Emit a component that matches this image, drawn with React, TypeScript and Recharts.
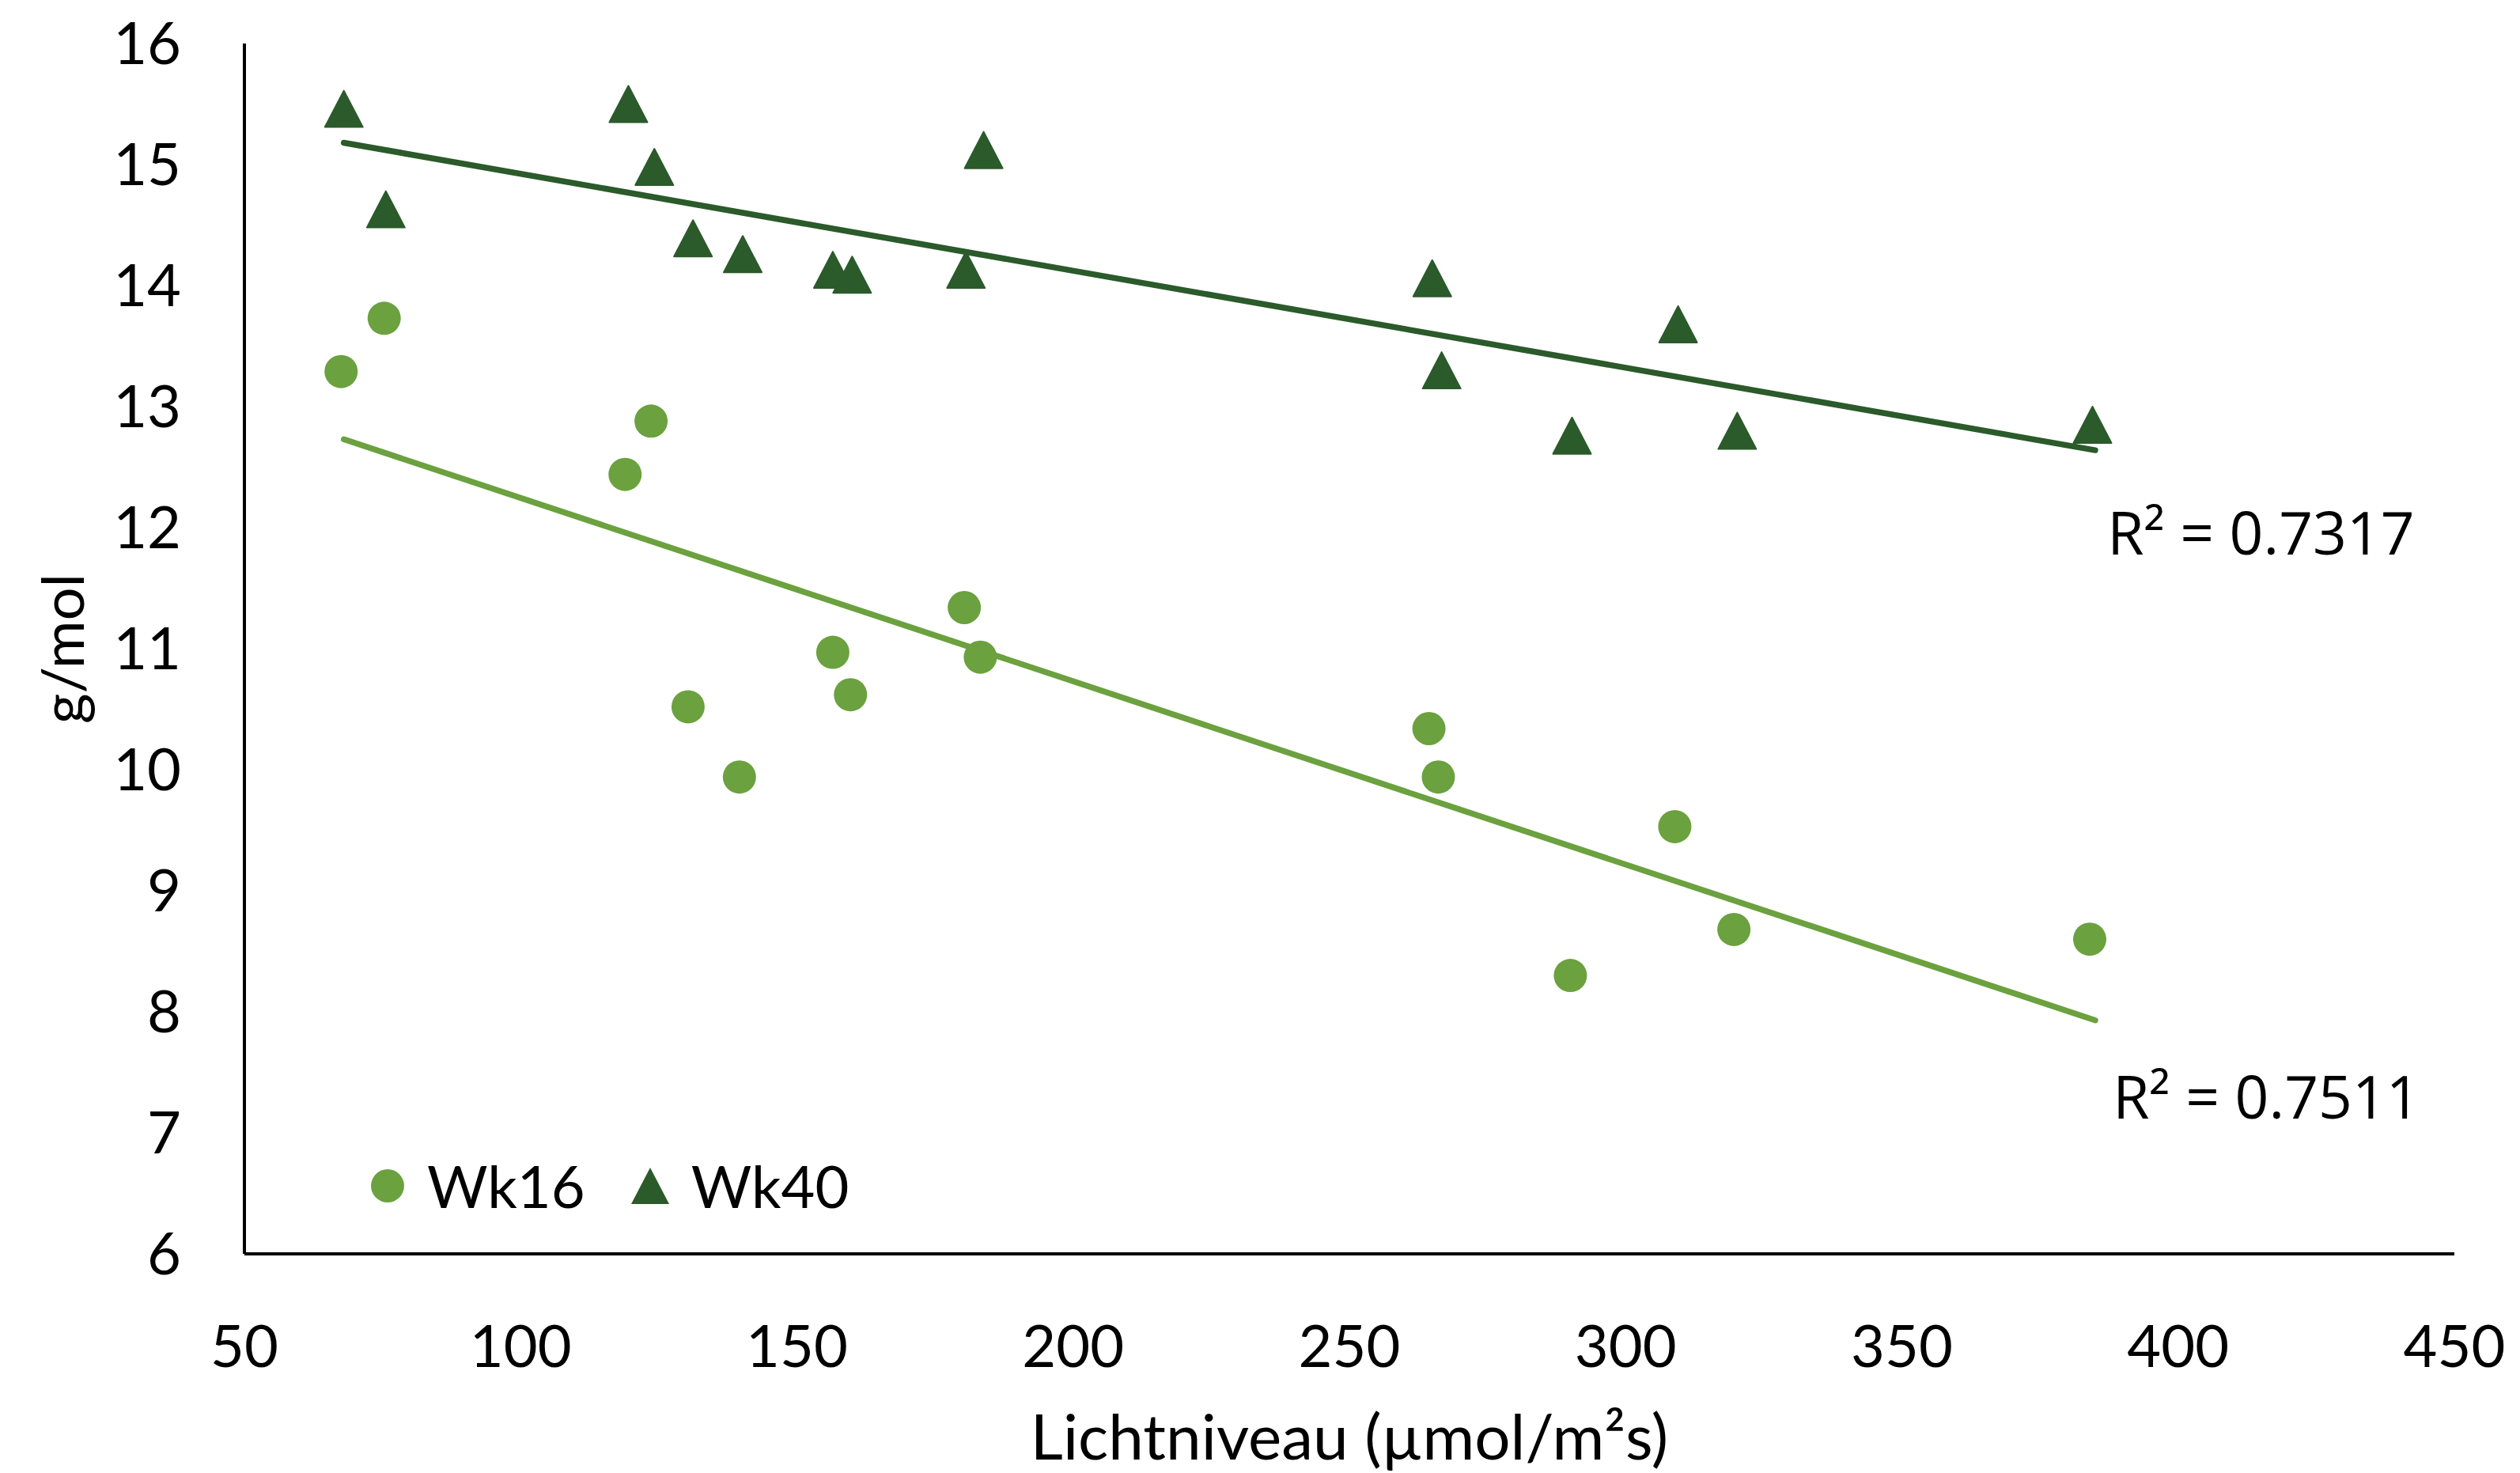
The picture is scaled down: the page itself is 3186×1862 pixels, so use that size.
import React from "react";
import {
  Label,
  Legend,
  ReferenceDot,
  Scatter,
  ScatterChart,
  XAxis,
  YAxis,
} from "recharts";

// tick labels
const xTicks = [50, 100, 150, 200, 250, 300, 350, 400, 450];
const yTicks = [6, 7, 8, 9, 10, 11, 12, 13, 14, 15, 16];

// Wk16 measurements
const wk16Light = [67.5, 75.3, 118.9, 123.6, 130.3, 139.6, 156.5, 159.7, 180.3, 183.2, 264.4, 266.1, 290, 308.9, 319.6, 384];
const wk16Value = [13.29, 13.73, 12.44, 12.88, 10.52, 9.94, 10.97, 10.62, 11.34, 10.93, 10.34, 9.94, 8.3, 9.53, 8.68, 8.6];

// Wk40 measurements
const wk40Light = [68, 75.6, 119.5, 124.2, 131.2, 140.2, 156.5, 160, 183.8, 180.6, 265, 266.7, 290.3, 309.5, 320.2, 384.5];
const wk40Value = [15.46, 14.63, 15.5, 14.98, 14.39, 14.26, 14.13, 14.09, 15.12, 14.13, 14.06, 13.3, 12.76, 13.68, 12.8, 12.85];

// linear trendline end points
const trend16Light = [68, 385];
const trend16Value = [12.73, 7.93];
const trend40Light = [68, 385];
const trend40Value = [15.18, 12.64];

const r2Texts = ["R\u00b2 = 0.7317", "R\u00b2 = 0.7511"];

const LIGHT = "#6ba13e";
const DARK = "#2b5a2b";
const FONT = "Lato, 'Open Sans', sans-serif";

const zip = (xs: number[], ys: number[]) => xs.map((x, i) => ({ x, y: ys[i] }));

const wk16 = zip(wk16Light, wk16Value);
const wk40 = zip(wk40Light, wk40Value);
const trend16 = zip(trend16Light, trend16Value);
const trend40 = zip(trend40Light, trend40Value);

const Dot = ({ cx, cy }: any) => <circle cx={cx} cy={cy} r={21} fill={LIGHT} />;

const Triangle = ({ cx, cy }: any) => (
  <polygon
    points={`${cx},${cy - 23} ${cx + 24},${cy + 23} ${cx - 24},${cy + 23}`}
    fill={DARK}
    stroke={DARK}
    strokeWidth={2}
    strokeLinejoin="round"
  />
);

const NoMark = () => <g />;

function LegendBox() {
  return (
    <div style={{ display: "flex", alignItems: "center", fontFamily: FONT, fontSize: 74, color: "#000" }}>
      <svg width={48} height={50}>
        <circle cx={24} cy={25} r={21} fill={LIGHT} />
      </svg>
      <span style={{ marginLeft: 26, marginRight: 56 }}>Wk16</span>
      <svg width={52} height={50}>
        <polygon points="26,2 50,48 2,48" fill={DARK} />
      </svg>
      <span style={{ marginLeft: 26 }}>Wk40</span>
    </div>
  );
}

export default function App() {
  return (
    <div style={{ position: "absolute", left: 0, top: 0, background: "#fff" }}>
      <ScatterChart width={3186} height={1862} margin={{ top: 55, right: 83, bottom: 0, left: 0 }}>
        <XAxis
          type="number"
          dataKey="x"
          domain={[50, 450]}
          ticks={xTicks}
          interval={0}
          height={277}
          axisLine={{ stroke: "#000", strokeWidth: 4 }}
          tickLine={false}
          tickSize={0}
          tickMargin={90}
          tick={{ fill: "#000", fontSize: 74, fontFamily: FONT }}
        >
          <Label
            content={({ viewBox }: any) => (
              <text
                x={viewBox.x + viewBox.width / 2}
                y={1845}
                textAnchor="middle"
                fontSize={80}
                fontFamily={FONT}
                fill="#000"
              >
                Lichtniveau (µmol/m²s)
              </text>
            )}
          />
        </XAxis>
        <YAxis
          type="number"
          dataKey="y"
          domain={[6, 16]}
          ticks={yTicks}
          interval={0}
          width={309}
          axisLine={{ stroke: "#000", strokeWidth: 4 }}
          tickLine={false}
          tickSize={0}
          tickMargin={80}
          tick={{ fill: "#000", fontSize: 74, fontFamily: FONT }}
        >
          <Label
            content={({ viewBox }: any) => {
              const cy = viewBox.y + viewBox.height / 2;
              return (
                <text
                  x={77}
                  y={cy}
                  transform={`rotate(-90, 77, ${cy})`}
                  textAnchor="middle"
                  dominantBaseline="central"
                  fontSize={74}
                  fontFamily={FONT}
                  fill="#000"
                >
                  g/mol
                </text>
              );
            }}
          />
        </YAxis>
        <Legend
          layout="horizontal"
          verticalAlign="middle"
          align="center"
          wrapperStyle={{ left: 466, top: 1454, width: "auto" }}
          content={() => <LegendBox />}
        />
        <Scatter name="Wk16" data={wk16} shape={Dot} isAnimationActive={false} />
        <Scatter name="Wk40" data={wk40} shape={Triangle} isAnimationActive={false} />
        <Scatter
          data={trend16}
          shape={NoMark}
          line={{ stroke: LIGHT, strokeWidth: 7.5, strokeLinecap: "round" }}
          legendType="none"
          isAnimationActive={false}
        />
        <Scatter
          data={trend40}
          shape={NoMark}
          line={{ stroke: DARK, strokeWidth: 7.5, strokeLinecap: "round" }}
          legendType="none"
          isAnimationActive={false}
        />
        <ReferenceDot
          x={415}
          y={11.95}
          r={0}
          stroke="none"
          label={{ value: r2Texts[0], position: "center", fontSize: 75, fontFamily: "'Open Sans', sans-serif", fill: "#000" }}
        />
        <ReferenceDot
          x={416}
          y={7.29}
          r={0}
          stroke="none"
          label={{ value: r2Texts[1], position: "center", fontSize: 75, fontFamily: "'Open Sans', sans-serif", fill: "#000" }}
        />
      </ScatterChart>
    </div>
  );
}
